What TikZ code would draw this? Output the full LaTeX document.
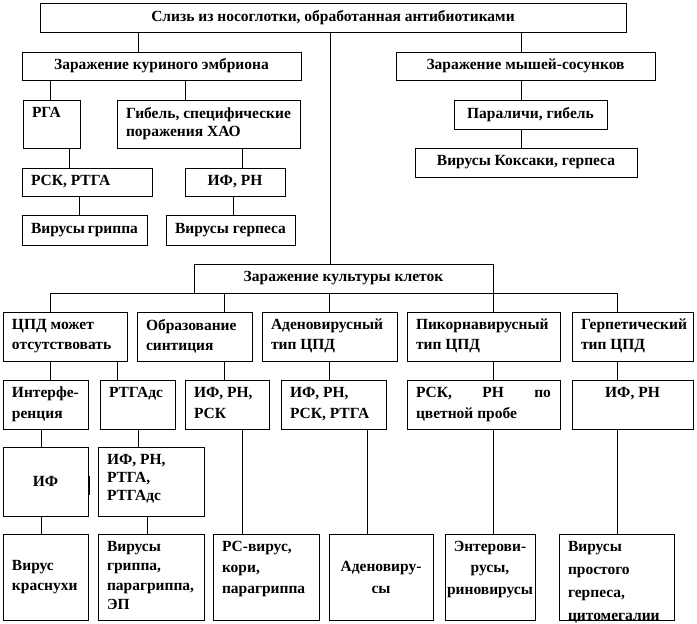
\documentclass[tikz,border=0pt]{standalone}
\usepackage{fontspec}
\setmainfont{Liberation Serif}
\newlength\bxpadx \newlength\bxpady
\setlength\bxpadx{9pt}\setlength\bxpady{7pt}
\newcommand\mkbox[8]{%
  \node[bx] (#1) at (#2,#3) {\parbox[c][\dimexpr #5pt-#3pt-2\bxpady\relax][#6]{\dimexpr #4pt-#2pt-2\bxpadx\relax}{#7#8}};}
\newcommand\vl[3]{\draw[ln] (#1.south -| #3,0) -- (#2.north -| #3,0);}
\newcommand\bs[1]{\setlength\baselineskip{#1pt}}
\tikzset{
  bx/.style={draw, line width=0.8pt, inner xsep=\bxpadx, inner ysep=\bxpady,
    anchor=north west, outer sep=0pt, font=\fontsize{15.5}{19}\selectfont\bfseries},
  ln/.style={line width=0.8pt}
}
\begin{document}
\begin{tikzpicture}[x=1pt,y=-1pt]
\fill[white] (0,0) rectangle (697,624);
\useasboundingbox (0,0) rectangle (697,624);
% upper part
\mkbox{top}{40}{3}{626}{32}{c}{\centering}{Слизь из носоглотки, обработанная антибиотиками}
\mkbox{chick}{22}{52}{301}{80}{c}{\centering}{Заражение~куриного~эмбриона}
\mkbox{mice}{396}{52}{655}{80}{c}{\centering}{Заражение~мышей-сосунков}
\mkbox{rga}{23}{100}{80}{148}{t}{\raggedright}{РГА}
\mkbox{gib}{117}{100}{300}{148}{t}{\raggedright\bs{18}}{Гибель,~специфические\\поражения~ХАО}
\mkbox{rsk1}{22}{168}{152}{196}{c}{\raggedright}{РСК,~РТГА}
\mkbox{ifrn1}{185}{168}{285}{196}{c}{\centering}{ИФ,~РН}
\mkbox{vg}{22}{215}{147}{245}{c}{\centering}{Вирусы~гриппа}
\mkbox{vh}{166}{215}{295}{245}{c}{\centering}{Вирусы~герпеса}
\mkbox{par}{454}{100}{607}{129}{c}{\centering}{Параличи,~гибель}
\mkbox{cox}{415}{148}{637}{177}{c}{\centering}{Вирусы~Коксаки,~герпеса}
\mkbox{cult}{194}{264}{493}{293}{c}{\centering}{Заражение~культуры~клеток}
% row 2
\mkbox{cpd}{3}{312}{127}{361}{t}{\raggedright\bs{20}}{ЦПД~может\\отсутствовать}
\mkbox{obr}{137}{312}{252}{361}{t}{\raggedright\bs{20}}{Образование\\синтиция}
\mkbox{aden}{262}{312}{397}{361}{t}{\raggedright\bs{20}}{Аденовирусный\\тип~ЦПД}
\mkbox{pik}{407}{312}{560}{361}{t}{\raggedright\bs{20}}{Пикорнавирусный\\тип~ЦПД}
\mkbox{gerp}{572}{312}{693}{361}{t}{\raggedright\bs{20}}{Герпетический\\тип~ЦПД}
% row 3
\mkbox{inter}{3}{380}{88}{429}{t}{\raggedright\bs{21}}{\mbox{Интерфе-}\\ренция}
\mkbox{rtgads}{100}{380}{175}{429}{t}{\raggedright}{РТГАдс}
\mkbox{ifrnrsk}{185}{380}{269}{429}{t}{\raggedright\bs{21}}{ИФ,~РН,\\РСК}
\mkbox{ifrnrskrtga}{281}{380}{386}{429}{t}{\raggedright\bs{21}}{ИФ,~РН,\\РСК,~РТГА}
\mkbox{rskrn}{407}{380}{560}{429}{t}{\raggedright\bs{21}}{\hbox to\linewidth{РСК,\hfill РН\hfill по}\par цветной~пробе}
\mkbox{ifrn2}{572}{380}{693}{429}{t}{\centering}{ИФ,~РН}
% row 4
\mkbox{if}{3}{447}{88}{516}{c}{\centering}{ИФ}
\mkbox{ifrnrtga}{98}{447}{204}{516}{t}{\raggedright\bs{18}}{ИФ,~РН,\\РТГА,\\РТГАдс}
% row 5
\mkbox{krasn}{3}{534}{88}{620}{c}{\raggedright\bs{20}}{Вирус\\краснухи}
\mkbox{gripp}{98}{534}{204}{620}{t}{\raggedright\bs{19.5}}{Вирусы\\гриппа,\\парагриппа,\\ЭП}
\mkbox{rs}{213}{534}{319}{620}{t}{\raggedright\bs{21}}{РС-вирус,\\кори,\\парагриппа}
\mkbox{adenv}{329}{534}{433}{620}{c}{\centering\bs{22}}{\mbox{Аденовиру-}\\сы}
\begin{scope}
\setlength\bxpadx{1pt}
\mkbox{enter}{445}{534}{535}{620}{t}{\centering\bs{21.5}}{\mbox{Энтерови-}\\русы,\\риновирусы}
\end{scope}
\mkbox{prost}{559}{534}{674}{620}{t}{\raggedright\bs{23}}{Вирусы\\простого\\герпеса,\\цитомегалии}
% connectors
\vl{top}{chick}{138}
\vl{top}{cult}{330}
\vl{top}{mice}{521}
\vl{chick}{rga}{50}
\vl{chick}{gib}{185}
\vl{rga}{rsk1}{69}
\vl{gib}{ifrn1}{242}
\vl{rsk1}{vg}{79}
\vl{ifrn1}{vh}{233}
\vl{mice}{par}{521}
\vl{par}{cox}{521}
\draw[ln] (cult.south -| 50,0) -- (cult.south -| 617,0);
\vl{cult}{cpd}{50}
\vl{cult}{obr}{224}
\vl{cult}{aden}{329}
\vl{cult}{pik}{493}
\vl{cult}{gerp}{617}
\vl{cpd}{inter}{50}
\vl{cpd}{rtgads}{117}
\vl{obr}{ifrnrsk}{224}
\vl{aden}{ifrnrskrtga}{329}
\vl{pik}{rskrn}{493}
\vl{gerp}{ifrn2}{617}
\vl{inter}{if}{41}
\vl{rtgads}{ifrnrtga}{138}
\vl{if}{krasn}{41}
\vl{ifrnrtga}{gripp}{147}
\vl{ifrnrsk}{rs}{242}
\vl{ifrnrskrtga}{adenv}{367}
\vl{rskrn}{enter}{493}
\vl{ifrn2}{prost}{617}
% small mark beside the IF box
\draw[line width=1.8pt] (89.5,476) -- (89.5,495);
\end{tikzpicture}
\end{document}
